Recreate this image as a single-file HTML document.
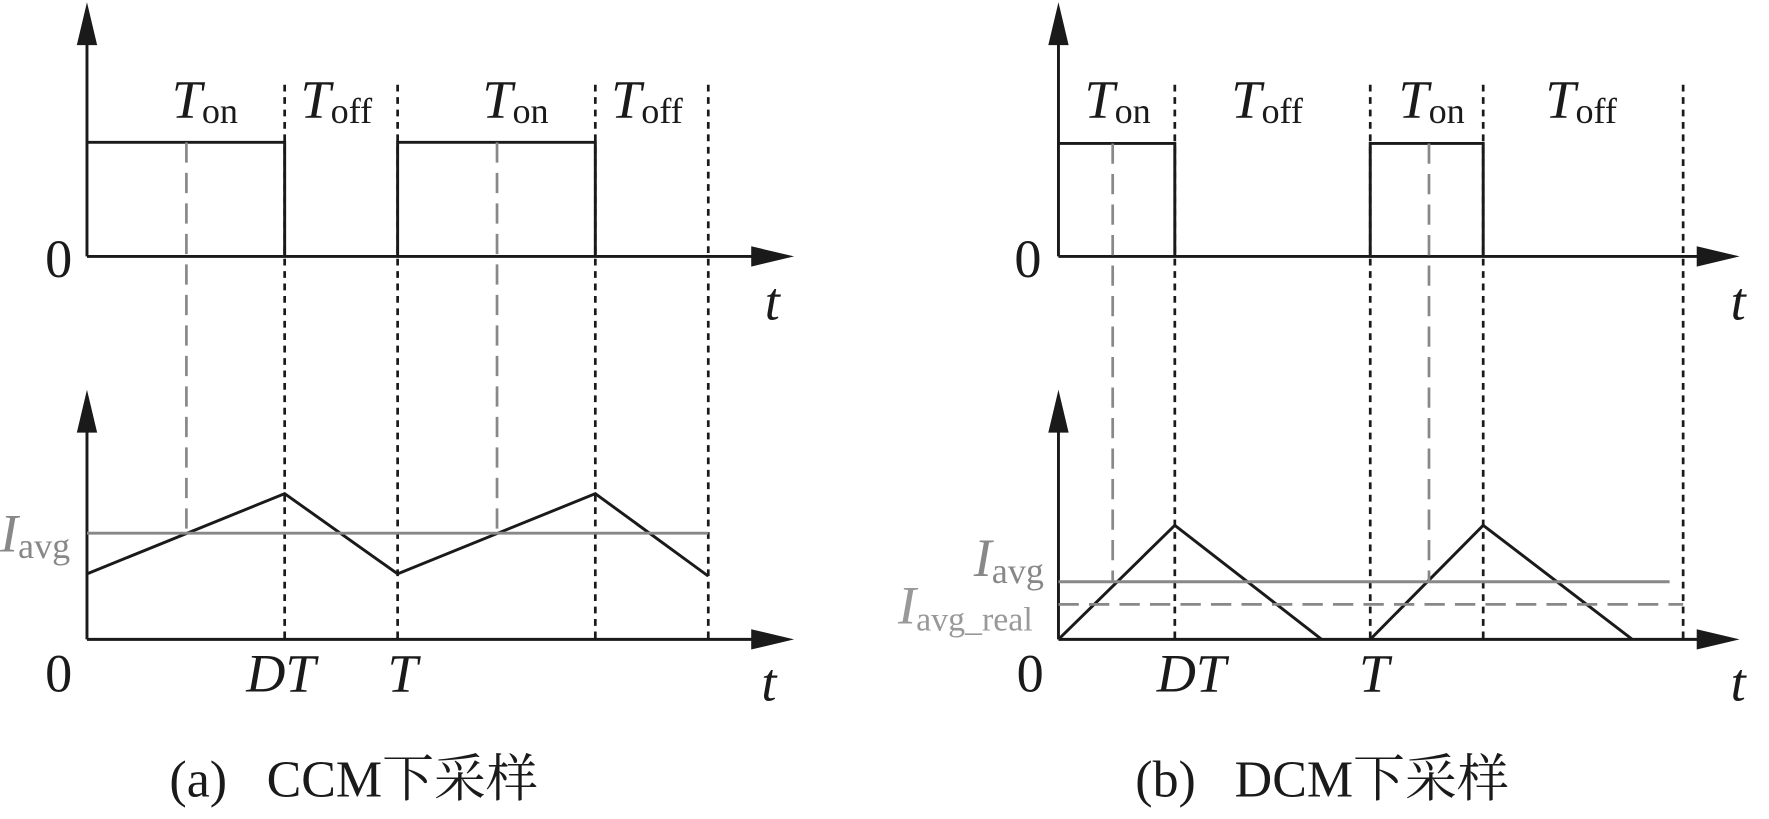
<!DOCTYPE html>
<html><head><meta charset="utf-8"><style>html,body{margin:0;padding:0;background:#fff;overflow:hidden}svg{display:block}</style></head>
<body>
<svg width="1769" height="819" viewBox="0 0 1566 725" preserveAspectRatio="none" xmlns="http://www.w3.org/2000/svg" font-family="'Liberation Serif','Noto Serif CJK SC',serif">
<g stroke="#1a1a1a" stroke-width="2.6" fill="none">
<line x1="77" y1="30" x2="77" y2="227"/><line x1="77" y1="227" x2="672" y2="227"/>
<line x1="77" y1="378" x2="77" y2="566"/><line x1="77" y1="566" x2="672" y2="566"/>
<polyline points="77,126 252,126 252,227"/><polyline points="352,227 352,126 527,126 527,227"/>
<polyline points="77,508 252,437 352,508 527,437 627,510"/>
<line x1="937" y1="30" x2="937" y2="227"/><line x1="937" y1="227" x2="1510" y2="227"/>
<line x1="937" y1="378" x2="937" y2="566"/><line x1="937" y1="566" x2="1510" y2="566"/>
<polyline points="937,127 1040,127 1040,227"/><polyline points="1213,227 1213,127 1313,127 1313,227"/>
<polyline points="937,566 1040,465 1170,566"/><polyline points="1213,566 1313,465 1445,566"/>
</g>
<g fill="#1a1a1a">
<polygon points="77,2 68,40 86,40"/><polygon points="703,227 665,218 665,236"/>
<polygon points="77,345 68,383 86,383"/><polygon points="703,566 665,557 665,575"/>
<polygon points="937,2 928,40 946,40"/><polygon points="1540,227 1502,218 1502,236"/>
<polygon points="937,345 928,383 946,383"/><polygon points="1540,566 1502,557 1502,575"/>
</g>
<g stroke="#1a1a1a" stroke-width="2.4" stroke-dasharray="6,5">
<line x1="252" y1="75" x2="252" y2="566"/><line x1="352" y1="75" x2="352" y2="566"/>
<line x1="527" y1="75" x2="527" y2="566"/><line x1="627" y1="75" x2="627" y2="566"/>
<line x1="1040" y1="75" x2="1040" y2="566"/><line x1="1213" y1="75" x2="1213" y2="566"/>
<line x1="1313" y1="75" x2="1313" y2="566"/><line x1="1490" y1="75" x2="1490" y2="566"/>
</g>
<g stroke="#888" stroke-width="2.4" stroke-dasharray="18,9">
<line x1="165" y1="126" x2="165" y2="472"/><line x1="440" y1="126" x2="440" y2="472"/>
<line x1="985" y1="127" x2="985" y2="515"/><line x1="1265" y1="127" x2="1265" y2="515"/>
<line x1="937" y1="535" x2="1490" y2="535"/>
</g>
<g stroke="#888" stroke-width="2.6">
<line x1="77" y1="472" x2="627" y2="472"/><line x1="937" y1="515" x2="1478" y2="515"/>
</g>
<g font-size="48" fill="#1a1a1a">
<text x="152" y="104" font-style="italic">T<tspan font-style="normal" font-size="32" dy="5">on</tspan></text>
<text x="266" y="104" font-style="italic">T<tspan font-style="normal" font-size="32" dy="5">off</tspan></text>
<text x="427" y="104" font-style="italic">T<tspan font-style="normal" font-size="32" dy="5">on</tspan></text>
<text x="541" y="104" font-style="italic">T<tspan font-style="normal" font-size="32" dy="5">off</tspan></text>
<text x="960" y="104" font-style="italic">T<tspan font-style="normal" font-size="32" dy="5">on</tspan></text>
<text x="1090" y="104" font-style="italic">T<tspan font-style="normal" font-size="32" dy="5">off</tspan></text>
<text x="1238" y="104" font-style="italic">T<tspan font-style="normal" font-size="32" dy="5">on</tspan></text>
<text x="1368" y="104" font-style="italic">T<tspan font-style="normal" font-size="32" dy="5">off</tspan></text>
<text x="40" y="245">0</text><text x="898" y="245">0</text>
<text x="40" y="612">0</text><text x="900" y="612">0</text>
<text x="677" y="283" font-style="italic">t</text><text x="1532" y="283" font-style="italic">t</text>
<text x="674" y="620" font-style="italic">t</text><text x="1532" y="620" font-style="italic">t</text>
<text x="218" y="612" font-style="italic">DT</text><text x="343" y="612" font-style="italic">T</text>
<text x="1024" y="612" font-style="italic">DT</text><text x="1203" y="612" font-style="italic">T</text>
<text x="150" y="705" font-size="46">(a)</text><text x="236" y="705" font-size="46">CCM下采样</text>
<text x="1005" y="705" font-size="46">(b)</text><text x="1093" y="705" font-size="46">DCM下采样</text>
</g>
<g fill="#888" font-size="48">
<text x="0" y="488" font-style="italic">I<tspan font-style="normal" font-size="32" dy="6">avg</tspan></text>
<text x="862" y="510" font-style="italic">I<tspan font-style="normal" font-size="32" dy="6">avg</tspan></text>
</g>
<text x="795" y="552" font-size="48" fill="#999" font-style="italic">I<tspan font-style="normal" font-size="30" dy="6">avg_real</tspan></text>
</svg>
</body></html>
